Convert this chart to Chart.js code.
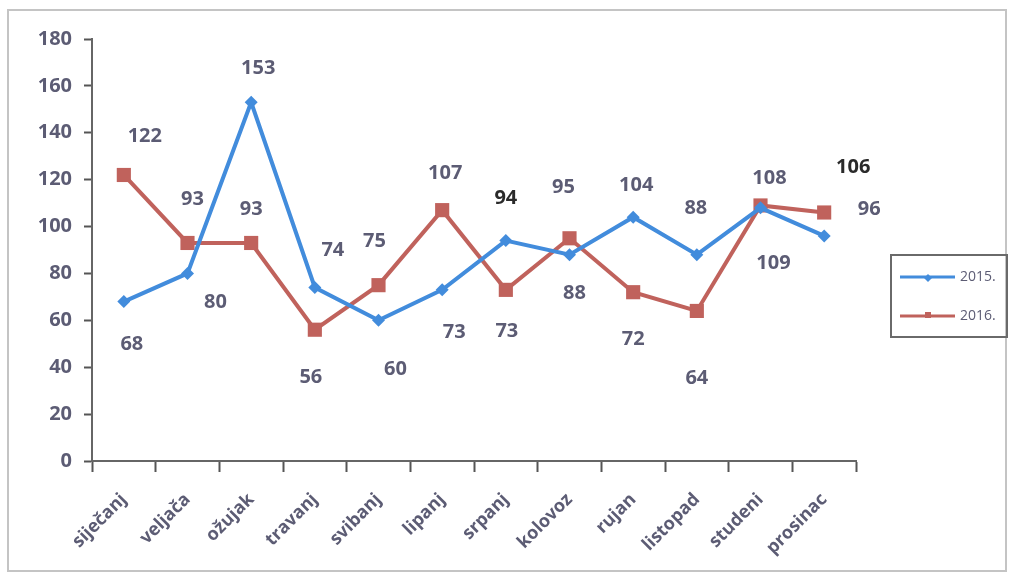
<!DOCTYPE html>
<html>
<head>
<meta charset="utf-8">
<script src="https://cdn.jsdelivr.net/npm/chart.js@4.4.0/dist/chart.umd.min.js"></script>
<style>
  html, body { margin: 0; padding: 0; background: #fff; }
  canvas { display: block; }
</style>
</head>
<body>
<canvas id="plot" width="1012" height="577"></canvas>
<script>
// podaci
const mjeseci = ['siječanj', 'veljača', 'ožujak', 'travanj', 'svibanj', 'lipanj',
                 'srpanj', 'kolovoz', 'rujan', 'listopad', 'studeni', 'prosinac']
const god2015 = [68, 80, 153, 74, 60, 73, 94, 88, 104, 88, 108, 96]
const god2016 = [122, 93, 93, 56, 75, 107, 73, 95, 72, 64, 109, 106]

// pomaci oznaka (px) od tocke
const pomak2015 = [[8, 43], [28, 29], [7, -34], [18, -37], [17, 49], [12, 42],
                   [0, -42], [5, 39], [3, -32], [-1, -46], [9, -30], [45, -27]]
const pomak2016 = [[21, -39], [5, -44], [0, -34], [-4, 48], [-4, -44], [3, -37],
                   [1, 41], [-6, -51], [0, 47], [0, 67], [13, 58], [29, -45]]

const plava = 'rgb(66, 140, 220)'
const crvena = 'rgb(192, 98, 92)'
const sivaTekst = '#5c5c74'
const fontObitelj = '"Open Sans", "DejaVu Sans", sans-serif'

const oznake = {
    id: 'oznake',
    afterDatasetsDraw(chart) {
        const ctx = chart.ctx
        const pomaci = [pomak2015, pomak2016]
        ctx.save()
        ctx.font = 'bold 20px ' + fontObitelj
        ctx.textAlign = 'center'
        ctx.textBaseline = 'middle'
        chart.data.datasets.forEach((ds, i) => {
            const meta = chart.getDatasetMeta(i)
            meta.data.forEach((p, j) => {
                const v = ds.data[j]
                const dark = (i === 0 && j === 6) || (i === 1 && j === 11)
                ctx.fillStyle = dark ? '#2a2a2a' : sivaTekst
                ctx.fillText(String(v), p.x + pomaci[i][j][0], p.y + pomaci[i][j][1])
            })
        })
        ctx.restore()
    }
}

const okvir = {
    id: 'okvir',
    beforeDraw(chart) {
        const ctx = chart.ctx
        ctx.save()
        ctx.fillStyle = '#fff'
        ctx.fillRect(0, 0, chart.width, chart.height)
        ctx.strokeStyle = '#c4c4c4'
        ctx.lineWidth = 2
        ctx.strokeRect(8, 10, 998, 561)
        ctx.restore()
    },
    afterDraw(chart) {
        // legenda
        const ctx = chart.ctx
        ctx.save()
        ctx.strokeStyle = '#6a6a6a'
        ctx.lineWidth = 2
        ctx.strokeRect(891, 255, 116, 82)
        const stavke = [
            {tekst: '2015.', boja: plava, y: 277, oblik: 'romb'},
            {tekst: '2016.', boja: crvena, y: 316, oblik: 'kvadrat'}
        ]
        stavke.forEach(s => {
            ctx.strokeStyle = s.boja
            ctx.fillStyle = s.boja
            ctx.lineWidth = 3
            ctx.beginPath()
            ctx.moveTo(900, s.y)
            ctx.lineTo(955, s.y)
            ctx.stroke()
            if (s.oblik === 'romb') {
                ctx.beginPath()
                ctx.moveTo(928, s.y - 3)
                ctx.lineTo(932, s.y + 1)
                ctx.lineTo(928, s.y + 5)
                ctx.lineTo(924, s.y + 1)
                ctx.closePath()
                ctx.fill()
            } else {
                ctx.fillRect(925, s.y - 4, 6, 6)
            }
            ctx.fillStyle = sivaTekst
            ctx.font = '14px ' + fontObitelj
            ctx.textAlign = 'left'
            ctx.textBaseline = 'middle'
            ctx.fillText(s.tekst, 960, s.y)
        })
        ctx.restore()
    }
}

const data_grafikon = {
    type: 'line',
    data: {
        labels: mjeseci,
        datasets: [
            {
                label: '2015.',
                data: god2015,
                borderColor: plava,
                backgroundColor: plava,
                borderWidth: 4,
                tension: 0,
                pointStyle: 'rectRot',
                pointRadius: 6.5,
                pointBorderWidth: 0
            },
            {
                label: '2016.',
                data: god2016,
                borderColor: crvena,
                backgroundColor: crvena,
                borderWidth: 4,
                tension: 0,
                pointStyle: 'rect',
                pointRadius: 10,
                pointBorderWidth: 0
            }
        ]
    },
    options: {
        responsive: false,
        animation: false,
        events: [],
        layout: { padding: { top: 39, right: 156, left: 0, bottom: 0 } },
        plugins: {
            legend: { display: false },
            tooltip: { enabled: false }
        },
        scales: {
            x: {
                offset: true,
                afterFit: s => { s.height = 116 },
                grid: {
                    offset: true,
                    drawOnChartArea: false,
                    drawTicks: true,
                    tickLength: 11,
                    tickWidth: 2,
                    tickColor: '#555'
                },
                border: { color: '#666', width: 2 },
                ticks: {
                    minRotation: 45,
                    maxRotation: 45,
                    padding: 17,
                    color: sivaTekst,
                    font: { family: fontObitelj, size: 18, weight: 'bold' }
                }
            },
            y: {
                min: 0,
                max: 180,
                afterFit: s => { s.width = 92 },
                grid: {
                    drawOnChartArea: false,
                    drawTicks: true,
                    tickLength: 8,
                    tickWidth: 2,
                    tickColor: '#555'
                },
                border: { color: '#666', width: 2 },
                ticks: {
                    stepSize: 20,
                    padding: 12,
                    color: sivaTekst,
                    font: { family: fontObitelj, size: 20, weight: 'bold' }
                }
            }
        }
    },
    plugins: [okvir, oznake]
}

const chart = new Chart(document.getElementById('plot'), data_grafikon)
</script>
</body>
</html>
